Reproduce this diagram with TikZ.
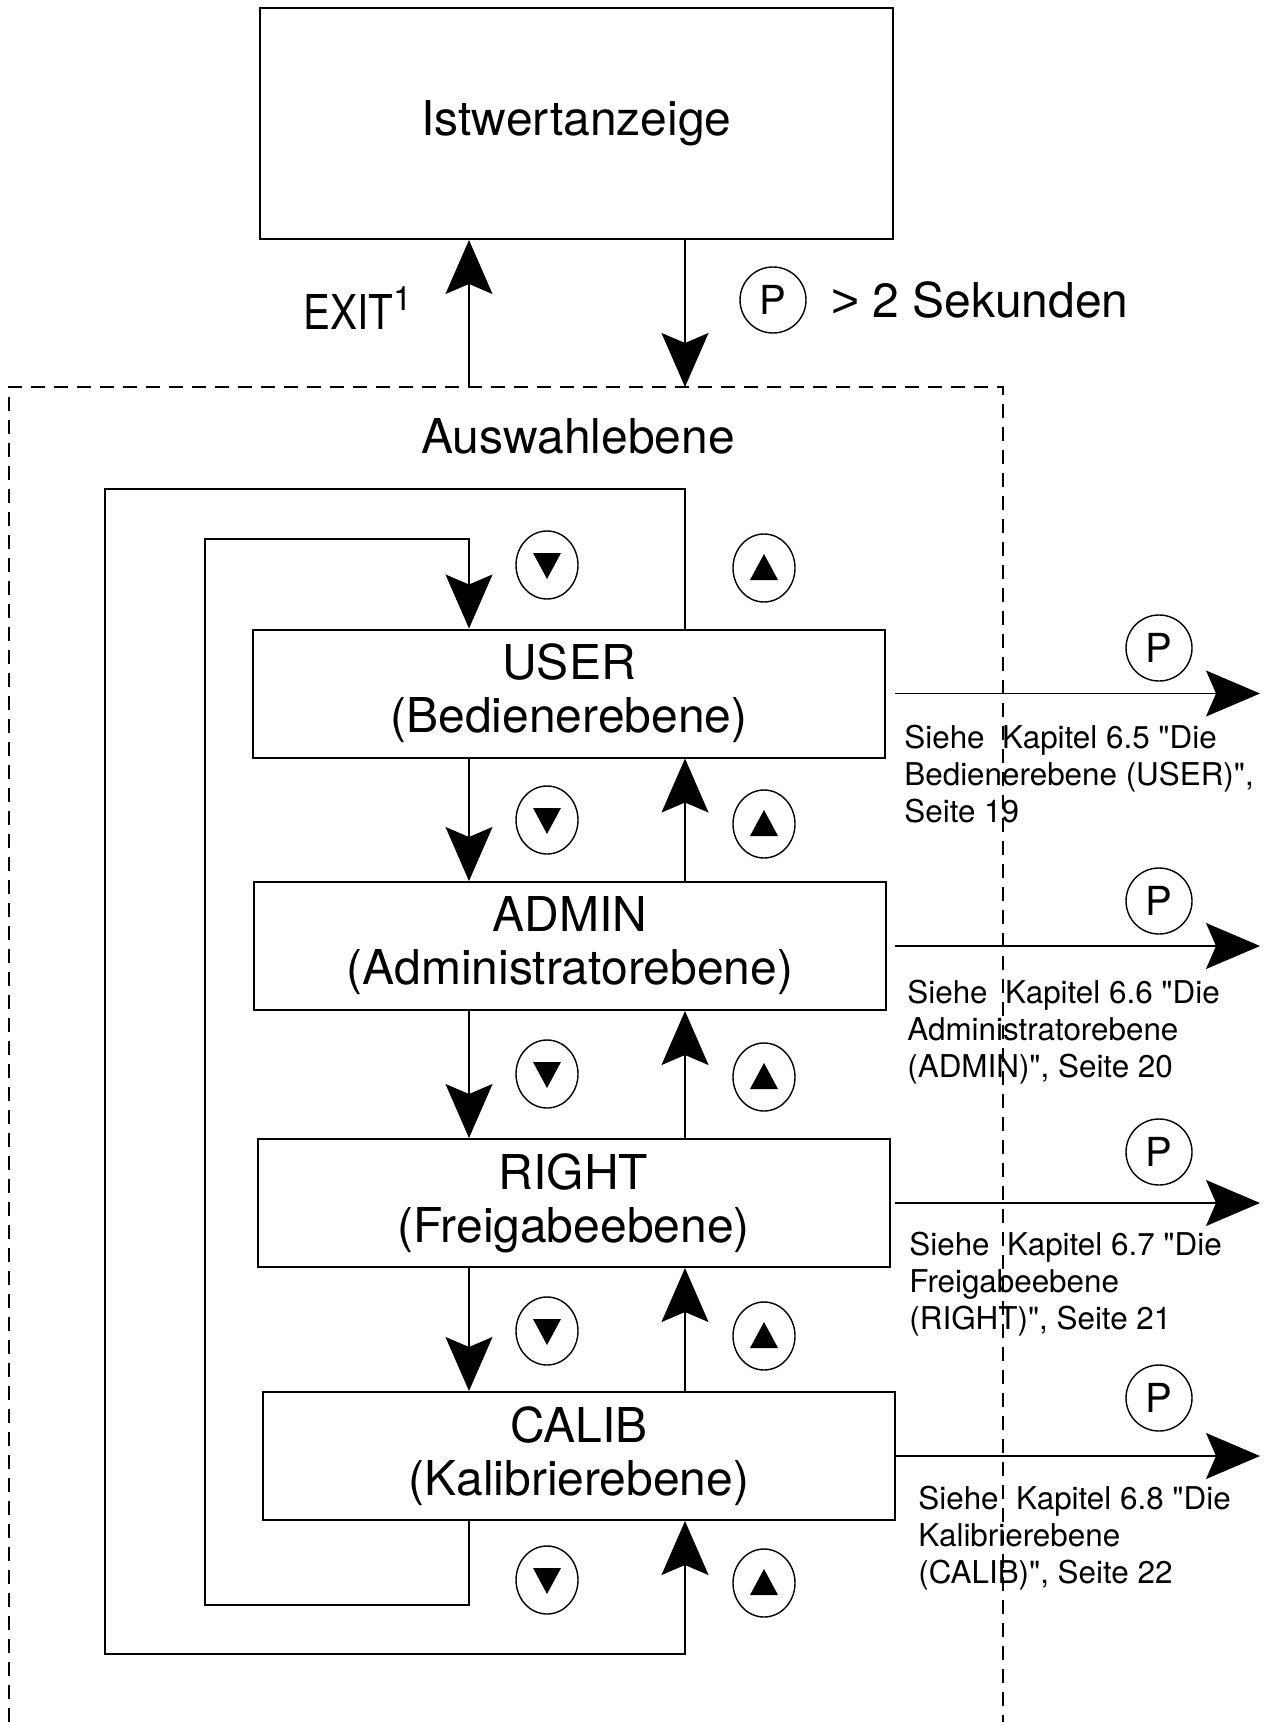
\documentclass[tikz,border=0pt]{standalone}
\usepackage{fontspec}
\usepackage{graphicx}
\setmainfont{TeX Gyre Heros}[Ligatures=TeXOff]
\newfontfamily\zeichenfont{Liberation Sans}
\usetikzlibrary{arrows.meta,shapes.geometric,positioning}
\tikzset{
  every node/.style={
    font=\fontsize{24}{26.5}\selectfont
  },
  ebene/.style={
    shape=rectangle,
    draw,
    line width=1pt,
    minimum width=316pt,
    minimum height=64pt,
    inner sep=0pt,
    align=center
  },
  taste/.style={
    shape=ellipse,
    draw,
    line width=0.7pt,
    minimum width=31pt,
    minimum height=34pt,
    inner sep=0pt
  },
  taste runter/.style={
    taste,
    path picture={\fill ([shift={(-7pt,6pt)}]path picture bounding box.center) -- ++(14pt,0pt) -- ++(-7pt,-13pt) -- cycle;}
  },
  taste hoch/.style={
    taste,
    path picture={\fill ([shift={(-7pt,-6pt)}]path picture bounding box.center) -- ++(14pt,0pt) -- ++(-7pt,13pt) -- cycle;}
  },
  ptaste/.style={
    shape=circle,
    draw,
    line width=0.7pt,
    minimum size=33pt,
    inner sep=0pt,
    font=\fontsize{20}{20}\selectfont
  },
  verweis/.style={
    anchor=north west,
    align=left,
    inner sep=0pt,
    font=\fontsize{15.7}{18.5}\selectfont
  },
  pfeil/.style={
    -{Stealth[length=27pt,width=23.5pt,inset=5pt]},
    line width=0.7pt
  },
  querpfeil/.style={
    -{Stealth[length=27pt,width=23pt,inset=5pt]},
    line width=0.7pt
  },
  rahmen/.style={
    dash pattern=on 7pt off 4.5pt,
    line width=0.7pt
  }
}
\begin{document}
\begin{tikzpicture}[x=0.5pt,y=-0.5pt]
  \useasboundingbox (0,0) rectangle (1263,1722);
  % hilfslinien
  \coordinate (dnx) at (469,0);
  \coordinate (upx) at (685,0);
  \coordinate (qa) at (895,0);
  \coordinate (qe) at (1260,0);
  % auswahlebene
  \coordinate (dbl) at (9,1722);
  \coordinate (dtl) at (9,387);
  \coordinate (dtr) at (1003,387);
  \coordinate (dbr) at (1003,1722);
  \draw[rahmen] (dbl) -- (dtl) -- (dtr) -- (dbr);
  \node (auswahl) at (578,436) {Auswahlebene};

  \node[ebene, minimum width=316.5pt, minimum height=115.5pt] (ist) at (576.5,123.5) {Istwertanzeige};
  \draw[pfeil] (dtl -| dnx) -- (ist.south -| dnx);
  \draw[pfeil] (ist.south -| upx) -- (dtl -| upx);
  \node[anchor=base west, inner sep=0pt] (exit) at (303,329) {\scalebox{0.84}[1]{EXIT}\textsuperscript{1}};
  \node[ptaste] (plang) at (773,300) {P};
  \node[anchor=west, inner sep=0pt] (sek) at (831,300) {{\zeichenfont >} 2 Sekunden};

  \node[ebene] (bediener) at (569,693.5) {USER\\(Bedienerebene)};
  \node[ebene] (admin) at (570,946) {ADMIN\\(Administratorebene)};
  \node[ebene] (freigabe) at (573.5,1203) {RIGHT\\(Freigabeebene)};
  \node[ebene] (kalib) at (579,1456) {CALIB\\(Kalibrierebene)};

  \draw[pfeil] (bediener.south -| dnx) -- (admin.north -| dnx);
  \draw[pfeil] (admin.south -| dnx) -- (freigabe.north -| dnx);
  \draw[pfeil] (freigabe.south -| dnx) -- (kalib.north -| dnx);
  \draw[pfeil] (admin.north -| upx) -- (bediener.south -| upx);
  \draw[pfeil] (freigabe.north -| upx) -- (admin.south -| upx);
  \draw[pfeil] (kalib.north -| upx) -- (freigabe.south -| upx);

  % schleifen
  \coordinate (oa) at (105,489);
  \coordinate (ob) at (105,1654);
  \coordinate (ia) at (205,539);
  \coordinate (ib) at (205,1605);
  \draw[pfeil] (bediener.north -| upx) |- (oa) -- (ob) -| (kalib.south -| upx);
  \draw[pfeil] (kalib.south -| dnx) |- (ib) -- (ia) -| (bediener.north -| dnx);

  \node[taste runter] (r0) at (547,565) {};
  \node[taste runter] (r1) at (547,820) {};
  \node[taste runter] (r2) at (547,1074) {};
  \node[taste runter] (r3) at (547,1331) {};
  \node[taste runter] (r4) at (547,1580) {};
  \node[taste hoch] (h0) at (764,568) {};
  \node[taste hoch] (h1) at (764,824) {};
  \node[taste hoch] (h2) at (764,1077) {};
  \node[taste hoch] (h3) at (764,1336) {};
  \node[taste hoch] (h4) at (764,1583) {};

  % verweise
  \draw[querpfeil] (bediener.east -| qa) -- (bediener.east -| qe);
  \draw[querpfeil] (admin.east -| qa) -- (admin.east -| qe);
  \draw[querpfeil] (freigabe.east -| qa) -- (freigabe.east -| qe);
  \draw[querpfeil] (kalib.east -| qa) -- (kalib.east -| qe);
  \node[ptaste] (p1) at (1159,648) {P};
  \node[ptaste] (p2) at (1159,901) {P};
  \node[ptaste] (p3) at (1159,1152) {P};
  \node[ptaste] (p4) at (1159,1398) {P};
  \node[verweis] (v1) at (904,725) {Siehe\ \ Kapitel 6.5 "Die\\Bedienerebene (USER)",\\Seite 19};
  \node[verweis] (v2) at (907,980) {Siehe\ \ Kapitel 6.6 "Die\\Administratorebene\\(ADMIN)", Seite 20};
  \node[verweis] (v3) at (909,1232) {Siehe\ \ Kapitel 6.7 "Die\\Freigabeebene\\(RIGHT)", Seite 21};
  \node[verweis] (v4) at (918,1486) {Siehe\ \ Kapitel 6.8 "Die\\Kalibrierebene\\(CALIB)", Seite 22};
\end{tikzpicture}
\end{document}
